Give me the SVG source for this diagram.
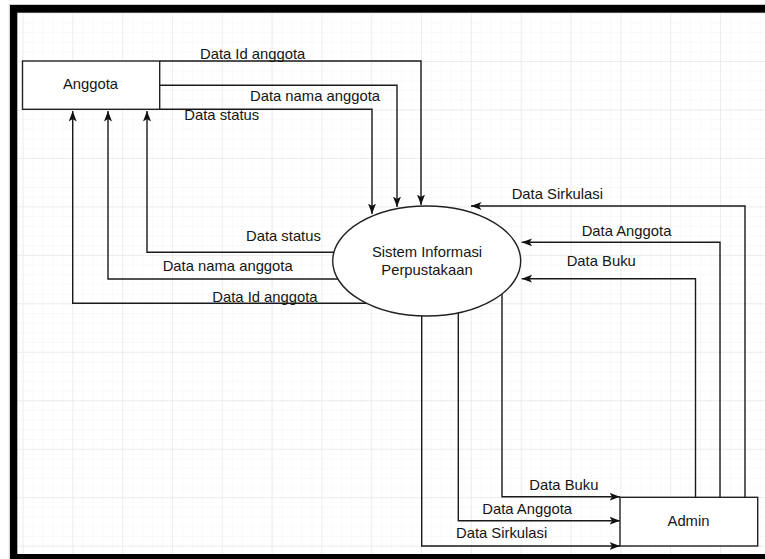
<svg xmlns="http://www.w3.org/2000/svg" width="765" height="559" viewBox="0 0 765 559">
<style>
.lbl{font-family:"Liberation Sans",Arial,sans-serif;font-size:14.8px;fill:#151515}
.ctr{text-anchor:middle}
.conn{fill:none;stroke:#1a1a1a;stroke-width:1.4}
.node{fill:#fff;stroke:#222;stroke-width:1.4}
</style>
<defs>
<marker id="arr" markerUnits="userSpaceOnUse" markerWidth="12" markerHeight="9" refX="10.5" refY="4" orient="auto">
<path d="M0,0 L10.5,4 L0,8 L2.6,4 Z" fill="#111"/>
</marker>
<pattern id="minor" patternUnits="userSpaceOnUse" x="22.5" y="12.5" width="9.964" height="9.694">
<path d="M0,0 V9.694 M0,0 H9.964" fill="none" stroke="#f4f4f4" stroke-width="1"/>
</pattern>
<pattern id="major" patternUnits="userSpaceOnUse" x="22.5" y="12.5" width="49.82" height="48.47">
<path d="M0,0 V48.47 M0,0 H49.82" fill="none" stroke="#e2e2e2" stroke-width="1"/>
</pattern>
</defs>
<rect x="0" y="0" width="765" height="559" fill="#fff"/>
<g id="grid">
<rect x="17" y="12.7" width="748" height="541.3" fill="url(#minor)"/>
<rect x="17" y="12.7" width="748" height="541.3" fill="url(#major)"/>
</g>
<g id="frame">
<rect x="9.3" y="4.5" width="760" height="560" fill="none" stroke="#ccc" stroke-width="1"/>
<rect x="10" y="5" width="755" height="7.7" fill="#000"/>
<rect x="10" y="5" width="7.3" height="554" fill="#000"/>
<rect x="10" y="554" width="755" height="5" fill="#000"/>
</g>
<g id="connectors">
<path class="conn" d="M159.7,61 H421 V205" marker-end="url(#arr)"/>
<path class="conn" d="M159.7,85.3 H397 V207" marker-end="url(#arr)"/>
<path class="conn" d="M159.7,109.3 H372 V214" marker-end="url(#arr)"/>
<path class="conn" d="M340,252.3 H147 V111" marker-end="url(#arr)"/>
<path class="conn" d="M345,279 H108 V111" marker-end="url(#arr)"/>
<path class="conn" d="M370,303.3 H72.7 V111" marker-end="url(#arr)"/>
<path class="conn" d="M745,497.3 V206 H471" marker-end="url(#arr)"/>
<path class="conn" d="M720,497.3 V242.3 H521.7" marker-end="url(#arr)"/>
<path class="conn" d="M695.5,497.3 V278.7 H521.7" marker-end="url(#arr)"/>
<path class="conn" d="M502,290 V496.8 H620" marker-end="url(#arr)"/>
<path class="conn" d="M458.3,305 V520.7 H620" marker-end="url(#arr)"/>
<path class="conn" d="M421.7,305 V546 H620" marker-end="url(#arr)"/>
<text class="lbl" x="200" y="58.7">Data Id anggota</text>
<text class="lbl" x="250" y="101">Data nama anggota</text>
<text class="lbl" x="184.3" y="119.5">Data status</text>
<text class="lbl" x="246" y="240.5">Data status</text>
<text class="lbl" x="162.7" y="270.5">Data nama anggota</text>
<text class="lbl" x="212.3" y="301.5">Data Id anggota</text>
<text class="lbl" x="511.7" y="198.8">Data Sirkulasi</text>
<text class="lbl" x="581.7" y="235.5">Data Anggota</text>
<text class="lbl" x="566.7" y="265.5">Data Buku</text>
<text class="lbl" x="529.3" y="489.8">Data Buku</text>
<text class="lbl" x="482.3" y="513.8">Data Anggota</text>
<text class="lbl" x="456" y="537.8">Data Sirkulasi</text>
</g>
<g id="anggota">
<rect class="node" x="22.5" y="61" width="137.2" height="48.3"/>
<text class="lbl ctr" x="90.5" y="88.8">Anggota</text>
</g>
<g id="sistem">
<ellipse class="node" cx="426.7" cy="261" rx="94" ry="55"/>
<text class="lbl ctr" x="427" y="256.5">Sistem Informasi</text>
<text class="lbl ctr" x="427" y="274.8">Perpustakaan</text>
</g>
<g id="admin">
<rect class="node" x="620" y="497.3" width="137.7" height="48.7"/>
<text class="lbl ctr" x="688.5" y="525.5">Admin</text>
</g>
</svg>
